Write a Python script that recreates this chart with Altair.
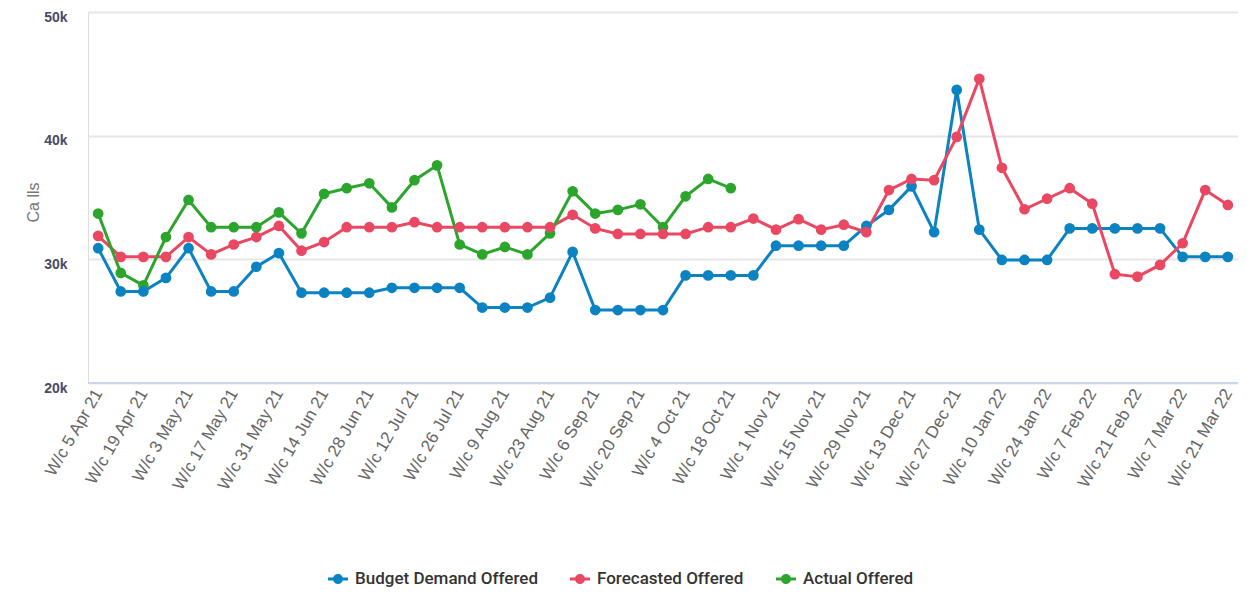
import altair as alt
import pandas as pd

weeks = [
    "W/c 5 Apr 21", "W/c 12 Apr 21", "W/c 19 Apr 21", "W/c 26 Apr 21",
    "W/c 3 May 21", "W/c 10 May 21", "W/c 17 May 21", "W/c 24 May 21", "W/c 31 May 21",
    "W/c 7 Jun 21", "W/c 14 Jun 21", "W/c 21 Jun 21", "W/c 28 Jun 21",
    "W/c 5 Jul 21", "W/c 12 Jul 21", "W/c 19 Jul 21", "W/c 26 Jul 21",
    "W/c 2 Aug 21", "W/c 9 Aug 21", "W/c 16 Aug 21", "W/c 23 Aug 21", "W/c 30 Aug 21",
    "W/c 6 Sep 21", "W/c 13 Sep 21", "W/c 20 Sep 21", "W/c 27 Sep 21",
    "W/c 4 Oct 21", "W/c 11 Oct 21", "W/c 18 Oct 21", "W/c 25 Oct 21",
    "W/c 1 Nov 21", "W/c 8 Nov 21", "W/c 15 Nov 21", "W/c 22 Nov 21", "W/c 29 Nov 21",
    "W/c 6 Dec 21", "W/c 13 Dec 21", "W/c 20 Dec 21", "W/c 27 Dec 21",
    "W/c 3 Jan 22", "W/c 10 Jan 22", "W/c 17 Jan 22", "W/c 24 Jan 22", "W/c 31 Jan 22",
    "W/c 7 Feb 22", "W/c 14 Feb 22", "W/c 21 Feb 22", "W/c 28 Feb 22",
    "W/c 7 Mar 22", "W/c 14 Mar 22", "W/c 21 Mar 22",
]

budget = [
    30900, 27400, 27400, 28500, 30900, 27400, 27400, 29400, 30500, 27300,
    27300, 27300, 27300, 27700, 27700, 27700, 27700, 26100, 26100, 26100,
    26900, 30600, 25900, 25900, 25900, 25900, 28700, 28700, 28700, 28700,
    31100, 31100, 31100, 31100, 32700, 34000, 35900, 32200, 43700, 32400,
    29950, 29950, 29950, 32500, 32500, 32500, 32500, 32500, 30200, 30200,
    30200,
]

forecast = [
    31900, 30200, 30200, 30200, 31800, 30400, 31200, 31800, 32700, 30700,
    31400, 32600, 32600, 32600, 33000, 32600, 32600, 32600, 32600, 32600,
    32600, 33600, 32500, 32050, 32050, 32050, 32050, 32600, 32600, 33300,
    32400, 33250, 32400, 32800, 32200, 35600, 36500, 36400, 39900, 44600,
    37400, 34050, 34900, 35750, 34500, 28800, 28600, 29550, 31300, 35600,
    34400,
]

actual = [
    33700, 28900, 27900, 31800, 34800, 32600, 32600, 32600, 33800, 32100,
    35300, 35750, 36150, 34200, 36400, 37600, 31200, 30400, 31000, 30400,
    32100, 35500, 33700, 34000, 34450, 32600, 35100, 36500, 35750,
]

series_names = ["Budget Demand Offered", "Forecasted Offered", "Actual Offered"]
series_colors = ["#0b82c2", "#ea4862", "#2ca52c"]
tick_weeks = weeks[::2]

rows = []
for name, vals in zip(series_names, [budget, forecast, actual]):
    for w, v in zip(weeks, vals):
        rows.append({"week": w, "calls": v, "series": name})
df = pd.DataFrame(rows)

legend_symbol = (
    "M-1,-0.14 L1,-0.14 L1,0.14 L-1,0.14 Z "
    "M0.5,0 A0.5,0.5 0 1,1 -0.5,0 A0.5,0.5 0 1,1 0.5,0 Z"
)

x_enc = alt.X(
    "week:N",
    sort=weeks,
    scale=alt.Scale(type="point", padding=0.45),
    axis=alt.Axis(
        values=tick_weeks,
        title=None,
        labelAngle=-60,
        labelAlign="right",
        labelBaseline="middle",
        labelFontSize=17,
        labelColor="#666666",
        labelFont="Liberation Sans",
        labelPadding=7,
        ticks=False,
        domain=False,
        grid=False,
        labelOverlap=False,
        labelLimit=300,
    ),
)

y_enc = alt.Y(
    "calls:Q",
    scale=alt.Scale(domain=[20000, 50000], nice=False, zero=False),
    axis=alt.Axis(
        values=[20000, 30000, 40000, 50000],
        labelExpr="datum.value / 1000 + 'k'",
        labelFontSize=14,
        labelFontWeight="bold",
        labelColor="#4a4a68",
        labelFont="Liberation Sans",
        labelPadding=21,
        labelBaseline="middle",
        labelOffset=5,
        ticks=False,
        domain=False,
        grid=True,
        gridColor="#e6e6e6",
        gridWidth=2,
        title="Ca lls",
        titleFontSize=16,
        titleFontWeight="normal",
        titleColor="#777777",
        titleFont="Liberation Sans",
        titleAngle=-90,
        titleX=-55,
        titleY=190,
        titleAlign="center",
        titleBaseline="middle",
    ),
)

color_enc = alt.Color(
    "series:N",
    scale=alt.Scale(domain=series_names, range=series_colors),
    sort=series_names,
    legend=alt.Legend(
        title=None,
        orient="none",
        direction="horizontal",
        legendX=240,
        legendY=557,
        symbolType=legend_symbol,
        symbolSize=400,
        symbolStrokeWidth=0,
        labelFontSize=17,
        labelFontWeight=500,
        labelFont="Roboto",
        labelColor="#333333",
        labelLimit=400,
        columnPadding=32,
        labelOffset=7,
    ),
)

base = alt.Chart(df).encode(x=x_enc, y=y_enc, color=color_enc, order=alt.Order("series:N"))

lines = base.mark_line(strokeWidth=3)
points = base.mark_circle(size=115, opacity=1)

baseline = alt.Chart(pd.DataFrame({"calls": [20000]})).mark_rule(
    color="#ccd6eb", strokeWidth=2
).encode(y="calls:Q", x=alt.value(0), x2=alt.value(1150))

chart = (
    alt.layer(baseline, lines, points)
    .properties(
        width=1150,
        height=371,
        autosize=alt.AutoSizeParams(type="none"),
        padding={"left": 80, "top": 4, "right": 0, "bottom": 204},
    )
    .configure_view(strokeWidth=0)
    .configure(background="white")
)

chart.save("out.html", embed_options={"renderer": "svg", "actions": False})
